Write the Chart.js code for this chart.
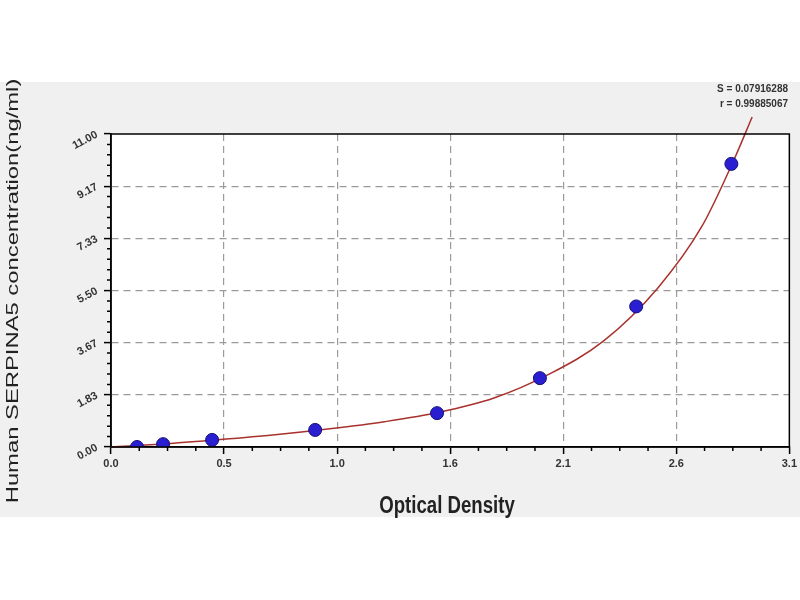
<!DOCTYPE html>
<html>
<head>
<meta charset="utf-8">
<script src="https://cdn.jsdelivr.net/npm/chart.js@4"></script>
<style>
  html, body { margin: 0; padding: 0; background: #fff; }
  #wrap { width: 800px; height: 600px; }
</style>
</head>
<body>
<div id="wrap"><canvas id="curveChart" width="800" height="600"></canvas></div>
<script>
// standards (OD vs concentration)
const odValues = [0.119, 0.238, 0.462, 0.933, 1.49, 1.96, 2.40, 2.835];
const concValues = [0.0, 0.10, 0.25, 0.60, 1.19, 2.42, 4.94, 9.95];

// fitted curve, points
const curveX = [0, 0.25, 0.5, 0.75, 1.0, 1.25, 1.5, 1.75, 2.0, 2.25, 2.5, 2.7, 2.85, 2.93];
const curveY = [0.0, 0.11, 0.26, 0.43, 0.64, 0.89, 1.22, 1.72, 2.55, 3.72, 5.6, 7.75, 10.15, 11.6];

// axis ticks
const xTickValues = [0, 0.51667, 1.03333, 1.55, 2.06667, 2.58333, 3.1];
const xTickLabels = ['0.0', '0.5', '1.0', '1.6', '2.1', '2.6', '3.1'];
const yTickValues = [0, 1.83333, 3.66667, 5.5, 7.33333, 9.16667, 11];
const yTickLabels = ['0.00', '1.83', '3.67', '5.50', '7.33', '9.17', '11.00'];

const fitStats = ['S = 0.07916288', 'r = 0.99885067'];
const xTitle = 'Optical Density';
const yTitle = 'Human SERPINA5 concentration(ng/ml)';

const points = odValues.map((v, i) => ({ x: v, y: concValues[i] }));
const curve = curveX.map((v, i) => ({ x: v, y: curveY[i] }));

function isEnd(scale, v) {
  return Math.abs(v - scale.min) < 1e-6 || Math.abs(v - scale.max) < 1e-6;
}

const frame = {
  id: 'frame',
  beforeDraw(chart) {
    const ctx = chart.ctx;
    const a = chart.chartArea;
    ctx.save();
    ctx.fillStyle = '#ffffff';
    ctx.fillRect(0, 0, chart.width, chart.height);
    ctx.fillStyle = '#f0f0f0';
    ctx.fillRect(0, 82, chart.width, 435);
    ctx.fillStyle = '#ffffff';
    ctx.fillRect(a.left, a.top, a.right - a.left, a.bottom - a.top);
    ctx.restore();
  },
  afterDraw(chart) {
    const ctx = chart.ctx;
    const a = chart.chartArea;
    const xs = chart.scales.x;
    const ys = chart.scales.y;
    ctx.save();
    // box around plot
    ctx.strokeStyle = '#000';
    ctx.lineWidth = 1.5;
    ctx.strokeRect(a.left, a.top, a.right - a.left, a.bottom - a.top);

    // minor ticks
    ctx.beginPath();
    for (let i = 0; i < xTickValues.length - 1; i++) {
      const step = (xTickValues[i + 1] - xTickValues[i]) / 4;
      for (let k = 1; k < 4; k++) {
        const px = xs.getPixelForValue(xTickValues[i] + step * k);
        ctx.moveTo(px, a.bottom);
        ctx.lineTo(px, a.bottom + 4);
      }
    }
    for (let i = 0; i < yTickValues.length - 1; i++) {
      const step = (yTickValues[i + 1] - yTickValues[i]) / 5;
      for (let k = 1; k < 5; k++) {
        const py = ys.getPixelForValue(yTickValues[i] + step * k);
        ctx.moveTo(a.left, py);
        ctx.lineTo(a.left - 4, py);
      }
    }
    ctx.stroke();

    // fit statistics
    ctx.fillStyle = '#333';
    ctx.font = 'bold 10px "Liberation Sans", Arial, sans-serif';
    ctx.textAlign = 'right';
    ctx.textBaseline = 'middle';
    ctx.fillText(fitStats[0], 788, 89);
    ctx.fillText(fitStats[1], 788, 104);

    // axis titles (source picture is stretched vertically)
    ctx.fillStyle = '#222';
    ctx.textAlign = 'center';
    ctx.font = 'bold 19px "Liberation Sans", Arial, sans-serif';
    ctx.save();
    ctx.translate(447, 507);
    ctx.scale(0.98, 1.22);
    ctx.fillText(xTitle, 0, 0);
    ctx.restore();

    ctx.font = '17px "Liberation Sans", Arial, sans-serif';
    ctx.save();
    ctx.translate(13, 291);
    ctx.rotate(-Math.PI / 2);
    ctx.scale(1.4, 1);
    ctx.fillText(yTitle, 0, 0);
    ctx.restore();

    ctx.restore();
  }
};

const tickFont = { family: '"Liberation Sans", Arial, sans-serif', size: 11, weight: 'bold' };

new Chart(document.getElementById('curveChart'), {
  type: 'scatter',
  data: {
    datasets: [
      {
        label: 'Standards',
        data: points,
        pointRadius: 6.5,
        pointHoverRadius: 6.5,
        pointBackgroundColor: '#2a1fd0',
        pointBorderColor: '#15107a',
        pointBorderWidth: 1,
        showLine: false
      },
      {
        label: 'Fit',
        data: curve,
        showLine: true,
        pointRadius: 0,
        borderColor: '#a8322d',
        borderWidth: 1.5,
        cubicInterpolationMode: 'monotone',
        clip: false
      }
    ]
  },
  plugins: [frame],
  options: {
    responsive: false,
    animation: false,
    devicePixelRatio: 1,
    layout: { padding: { left: 0, top: 134, right: 10, bottom: 83 } },
    plugins: {
      legend: { display: false },
      tooltip: { enabled: false }
    },
    scales: {
      x: {
        type: 'linear',
        min: 0,
        max: 3.1,
        afterBuildTicks(scale) {
          scale.ticks = xTickValues.map(v => ({ value: v }));
        },
        afterFit(scale) { scale.height = 70; },
        ticks: {
          font: tickFont,
          color: '#333',
          padding: 3,
          maxRotation: 0,
          minRotation: 0,
          callback: (v, i) => xTickLabels[i]
        },
        grid: {
          color: ctx => (ctx.tick && isEnd(ctx.chart.scales.x, ctx.tick.value)) ? 'rgba(0,0,0,0)' : '#9a9a9a',
          lineWidth: 1.2,
          tickColor: '#000',
          tickLength: 7,
          tickWidth: 1.5
        },
        border: { color: '#000', width: 1.5, dash: [7, 5] }
      },
      y: {
        type: 'linear',
        min: 0,
        max: 11,
        afterBuildTicks(scale) {
          scale.ticks = yTickValues.map(v => ({ value: v }));
        },
        afterFit(scale) { scale.width = 111; },
        ticks: {
          font: tickFont,
          color: '#333',
          padding: 7,
          minRotation: 28,
          maxRotation: 28,
          callback: (v, i) => yTickLabels[i]
        },
        grid: {
          color: ctx => (ctx.tick && isEnd(ctx.chart.scales.y, ctx.tick.value)) ? 'rgba(0,0,0,0)' : '#9a9a9a',
          lineWidth: 1.2,
          tickColor: '#000',
          tickLength: 7,
          tickWidth: 1.5
        },
        border: { color: '#000', width: 1.5, dash: [7, 5] }
      }
    }
  }
});
</script>
</body>
</html>
